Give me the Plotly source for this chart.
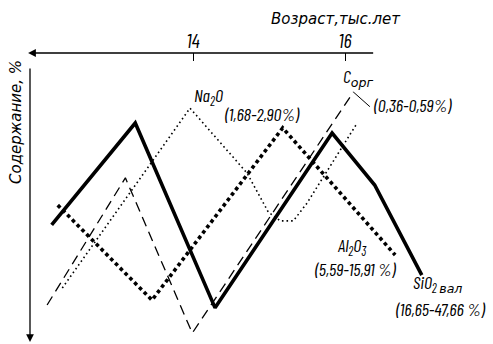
import plotly.graph_objects as go

# ---- data (age in thousand years, relative content) ----
sio2_age = [12.14, 13.24, 14.29, 15.83, 16.39, 17.01]
sio2_val = [40.1, 75.6, 11.2, 72.1, 54.0, 22.6]

al2o3_age = [12.22, 13.46, 15.18, 16.66]
al2o3_val = [47.0, 13.9, 73.9, 29.6]

na2o_age = [12.28, 13.96, 14.71, 14.99, 15.15, 15.32, 15.50, 16.16]
na2o_val = [18.1, 80.8, 58.2, 44.6, 41.5, 41.5, 47.7, 75.6]

corg_age = [12.08, 13.11, 13.99, 16.11]
corg_val = [12.2, 56.5, 2.4, 86.4]

tick_vals = [14, 16]
tick_text = ["14", "16"]

FONT = "Barlow Condensed, Archivo Narrow, DejaVu Sans"
CYR = "DejaVu Sans"

# plot area in page pixels
L, T, R, B = 30, 53, 493, 340

fig = go.Figure()
fig.add_trace(go.Scatter(x=corg_age, y=corg_val, mode="lines",
                         line=dict(color="black", width=1.3, dash="10px,6px")))
fig.add_trace(go.Scatter(x=na2o_age, y=na2o_val, mode="lines",
                         line=dict(color="black", width=1.6, dash="1.6px,3px")))
fig.add_trace(go.Scatter(x=al2o3_age, y=al2o3_val, mode="lines",
                         line=dict(color="black", width=3.6, dash="3.6px,3.2px")))
fig.add_trace(go.Scatter(x=sio2_age, y=sio2_val, mode="lines",
                         line=dict(color="black", width=3.6)))

XR = [11.855, 17.947]
fig.update_layout(
    width=493, height=344,
    margin=dict(l=L, r=493 - R, t=T, b=344 - B, autoexpand=False),
    paper_bgcolor="white", plot_bgcolor="white",
    showlegend=False,
    font=dict(family=FONT, color="black", size=16),
    xaxis=dict(range=XR, side="top", showgrid=False, zeroline=False,
               showline=False, ticks="inside", ticklen=8, tickwidth=1.2,
               tickcolor="black", tickvals=tick_vals, ticktext=tick_text,
               automargin=False,
               tickfont=dict(family=FONT, size=20, style="italic")),
    yaxis=dict(range=[0, 100], showgrid=False, zeroline=False, automargin=False,
               showline=False, showticklabels=False, ticks=""),
)

annots = []
# top axis with arrow pointing left
annots.append(dict(x=11.83, y=1, xref="x", yref="paper", axref="x", ayref="pixel",
                   ax=16.39, ay=0, text="", showarrow=True, arrowhead=2,
                   arrowsize=1.2, arrowwidth=1.3, arrowcolor="black"))
# left axis with arrow pointing down
annots.append(dict(x=0, y=-0.7, xref="paper", yref="y", axref="pixel", ayref="y",
                   ax=0, ay=95.1, text="", showarrow=True, arrowhead=2,
                   arrowsize=1.2, arrowwidth=1.3, arrowcolor="black"))
# leader for C org
annots.append(dict(x=corg_age[-1], y=corg_val[-1], xref="x", yref="y",
                   ax=18, ay=16, text="", showarrow=True, arrowhead=0,
                   arrowwidth=1, arrowcolor="black"))

def pos(px, py):
    return (px - L) / (R - L), (B - py) / (B - T)

def ptext(txt, px, py, size=16, angle=0, family=FONT):
    x, y = pos(px, py)
    annots.append(dict(x=x, y=y, xref="paper", yref="paper", textangle=angle,
                       text=txt, showarrow=False, xanchor="center", yanchor="middle",
                       font=dict(family=family, size=size, style="italic", color="black")))

ptext("Возраст,тыс.лет", 336, 19, 15, family=CYR)
ptext("Na<sub>2</sub>O", 208, 96, 18)
ptext("(1,68-2,90%)", 262, 114, 18)
ptext("C<sub>орг</sub>", 358, 78, 18)
ptext("(0,36-0,59%)", 413, 105, 18)
ptext("Al<sub>2</sub>O<sub>3</sub>", 352, 246, 18)
ptext("(5,59-15,91 %)", 355, 269, 18)
ptext("SiO<sub>2 вал</sub>", 437, 283, 18)
ptext("(16,65-47,66 %)", 441, 309, 18)
ptext("Содержание, %", 16, 122, 15, -90, family=CYR)

fig.update_layout(annotations=annots)
fig.write_html("out.html", config={"displayModeBar": False},
               post_script="document.body.style.margin='0';")
